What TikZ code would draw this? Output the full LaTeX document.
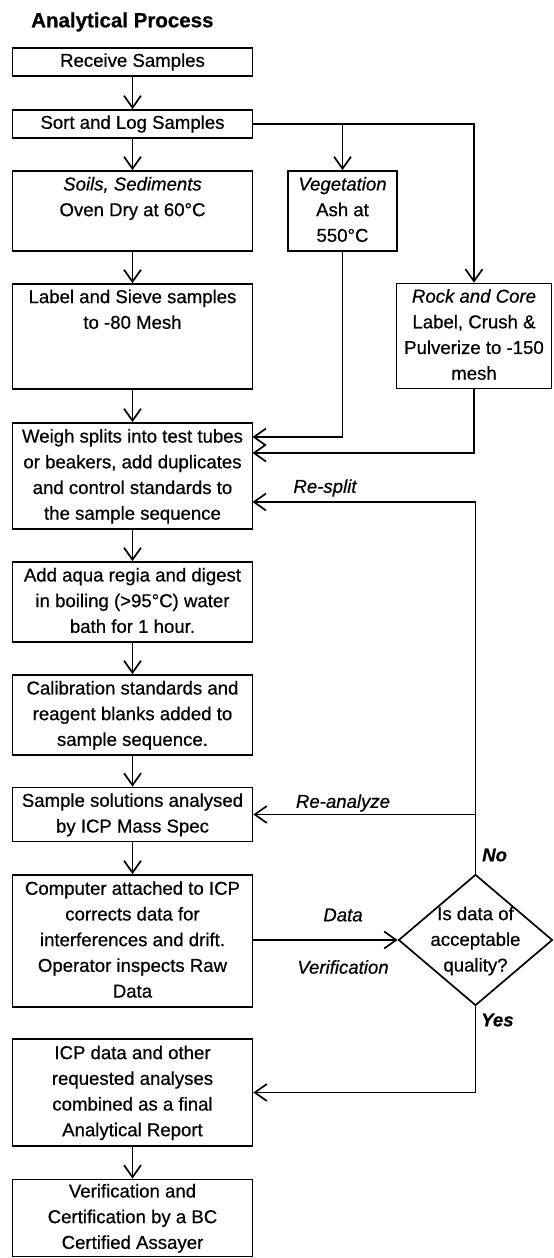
\documentclass[tikz,border=0pt]{standalone}
\usepackage{fontspec}
\setmainfont{Liberation Sans}[FakeBold=0.6]
\usetikzlibrary{arrows.meta,shapes.geometric}
\begin{document}
\begin{tikzpicture}[x=1pt,y=-1pt,
  box/.style={draw, line width=1.7pt, inner sep=0pt, align=center,
    font=\fontsize{18.6}{25.7}\selectfont},
  arr/.style={line width=1.7pt, -{Straight Barb[length=12pt,width=17pt,line width=1.7pt]}},
  lab/.style={inner sep=0pt, font=\fontsize{18.6}{25.7}\selectfont\itshape},
  blab/.style={inner sep=0pt, font=\fontsize{18.6}{25.7}\selectfont\bfseries\itshape},
  dtext/.style={inner sep=0pt, align=center, font=\fontsize{18.6}{25.7}\selectfont}
]
\useasboundingbox (0,0) rectangle (554,1258);

\node[anchor=west, inner sep=0pt, font=\fontsize{20.5}{25}\selectfont\bfseries] (title) at (31,22) {Analytical Process};

\node[box, minimum width=240pt, minimum height=28pt] (rec) at (132.5,62) {Receive Samples};
\node[box, minimum width=240pt, minimum height=28pt] (sort) at (132.5,124) {Sort and Log Samples};
\node[box, minimum width=240pt, minimum height=80pt] (soils) at (132.5,211) {\strut\textit{Soils, Sediments}\\Oven Dry at 60°C\\\strut};
\node[box, minimum width=109pt, minimum height=80pt] (veg) at (342.5,211) {\strut\textit{Vegetation}\\Ash at\\550°C\strut};
\node[box, minimum width=240pt, minimum height=105pt] (label) at (132.5,336.5) {\strut Label and Sieve samples\\to -80 Mesh\\\strut\\\strut};
\node[box, minimum width=155pt, minimum height=105pt] (rock) at (474,336) {\strut\textit{Rock and Core}\\Label, Crush \&\\Pulverize to -150\\mesh\strut};
\node[box, minimum width=240pt, minimum height=106pt] (weigh) at (132.5,476) {\strut Weigh splits into test tubes\\or beakers, add duplicates\\and control standards to\\the sample sequence\strut};
\node[box, minimum width=240pt, minimum height=80pt] (aqua) at (132.5,602) {\strut Add aqua regia and digest\\in boiling (>95°C) water\\bath for 1 hour.\strut};
\node[box, minimum width=240pt, minimum height=80pt] (calib) at (132.5,715) {\strut Calibration standards and\\reagent blanks added to\\sample sequence.\strut};
\node[box, minimum width=240pt, minimum height=54pt] (sample) at (132.5,814.5) {\strut Sample solutions analysed\\by ICP Mass Spec\strut};
\node[box, minimum width=240pt, minimum height=132pt] (comp) at (132.5,941) {\strut Computer attached to ICP\\corrects data for\\interferences and drift.\\Operator inspects Raw\\Data\strut};
\node[box, minimum width=240pt, minimum height=107pt] (icp) at (132.5,1092.5) {\strut ICP data and other\\requested analyses\\combined as a final\\Analytical Report\strut};
\node[box, minimum width=240pt, minimum height=76pt] (ver) at (132.5,1218) {\strut Verification and\\Certification by a BC\\Certified Assayer\strut};

\node[draw, diamond, line width=1.7pt, inner sep=0pt, minimum width=154pt, minimum height=131pt] (dia) at (475.5,940) {};
\node[dtext] (diatext) at (475.5,941) {Is data of\\acceptable\\quality?};

\coordinate (vegin) at (252.5,437);
\coordinate (rockin) at (252.5,453);
\coordinate (respin) at (252.5,502);

\draw[arr] (rec) -- (sort);
\draw[arr] (sort) -- (soils);
\draw[arr] (soils) -- (label);
\draw[arr] (label) -- (weigh);
\draw[arr] (weigh) -- (aqua);
\draw[arr] (aqua) -- (calib);
\draw[arr] (calib) -- (sample);
\draw[arr] (sample) -- (comp);
\draw[arr] (icp) -- (ver);

\draw[arr] (sort.east) -| (rock.north);
\draw[arr] (sort.east -| veg.north) -- (veg.north);
\draw[arr] (veg.south) |- (vegin);
\draw[arr] (rock.south) |- (rockin);
\draw[arr] (dia.north) |- (respin);
\draw[arr] (dia.north |- sample.east) -- (sample.east);
\draw[arr] (comp.east |- dia.west) -- (dia.west);
\draw[arr] (dia.south) |- (icp.east);

\node[lab] (lresplit) at (325,488) {Re-split};
\node[lab] (lreana) at (343,803) {Re-analyze};
\node[lab] (ldata) at (343,915) {Data};
\node[lab] (lverif) at (343,967) {Verification};
\node[blab, anchor=west] (lno) at (482,855) {No};
\node[blab, anchor=west] (lyes) at (481,1020) {Yes};
\end{tikzpicture}
\end{document}
